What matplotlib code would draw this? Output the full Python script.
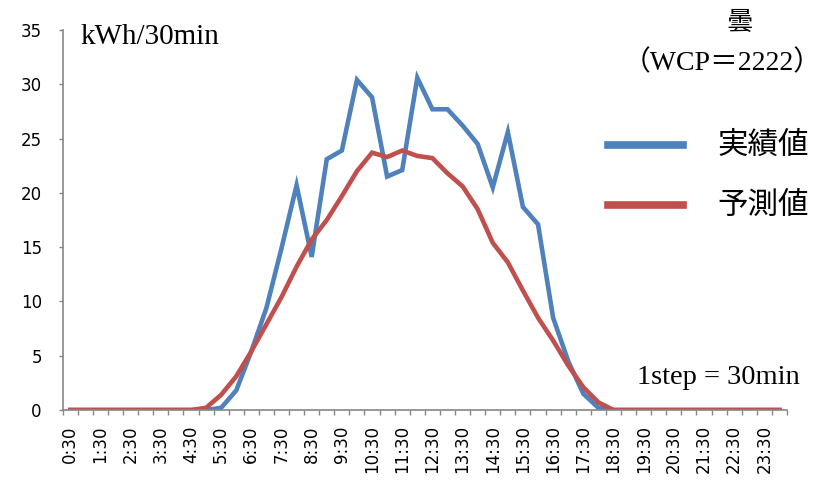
import numpy as np
import matplotlib
matplotlib.use("Agg")
import matplotlib.pyplot as plt

plt.rcParams['font.family'] = ['DejaVu Sans']

# half-hour steps 0:30 .. 24:00 (48 points), labelled every other step
tick_labels = ["0:30", "1:30", "2:30", "3:30", "4:30", "5:30", "6:30", "7:30",
               "8:30", "9:30", "10:30", "11:30", "12:30", "13:30", "14:30", "15:30",
               "16:30", "17:30", "18:30", "19:30", "20:30", "21:30", "22:30", "23:30"]

actual = [0, 0, 0, 0, 0, 0, 0, 0, 0, 0,
          0.2, 1.8, 5.4, 9.4, 14.9, 20.7, 14.1, 23.1, 23.9, 30.4,
          28.8, 21.5, 22.1, 30.6, 27.7, 27.7, 26.2, 24.5, 20.5, 25.6,
          18.7, 17.1, 8.5, 4.5, 1.5, 0.2, 0, 0, 0, 0,
          0, 0, 0, 0, 0, 0, 0, 0]
forecast = [0, 0, 0, 0, 0, 0, 0, 0, 0, 0.2,
            1.4, 3.1, 5.4, 7.9, 10.4, 13.2, 15.7, 17.5, 19.7, 22.0,
            23.7, 23.3, 23.9, 23.4, 23.2, 21.8, 20.6, 18.5, 15.4, 13.6,
            11.0, 8.5, 6.4, 4.1, 2.1, 0.7, 0, 0, 0, 0,
            0, 0, 0, 0, 0, 0, 0, 0]

W, H = 827, 484
fig = plt.figure(figsize=(W / 100, H / 100), dpi=100)
ax = fig.add_axes([62.7 / W, 1 - 410 / H, (787 - 62.7) / W, (410 - 30) / H])

x = np.arange(len(actual))
ax.plot(x, actual, color='#4F81BD', lw=3.3, solid_joinstyle='miter')
ax.plot(x, forecast, color='#C0504D', lw=3.3, solid_joinstyle='miter')

ax.set_xlim(-0.5, len(actual) - 0.5)
ax.set_ylim(0, 35)
ax.set_yticks(range(0, 36, 5))

# tick marks between categories, labels on every other category
ax.set_xticks(np.arange(-0.5, len(actual), 1))
ax.set_xticklabels([])
ax.set_xticks(np.arange(0, len(actual), 2), minor=True)
ax.set_xticklabels(tick_labels, minor=True, rotation=90, fontsize=12)
ax.tick_params(axis='x', which='major', length=3.5, color='#868686', width=1)
ax.tick_params(axis='x', which='minor', length=0, pad=11)
ax.tick_params(axis='y', length=3, color='#868686', width=1, labelsize=12, pad=12)

for s in ['top', 'right']:
    ax.spines[s].set_visible(False)
for s in ['left', 'bottom']:
    ax.spines[s].set_color('#868686')
    ax.spines[s].set_linewidth(1.2)


def fx(px):
    return px / W


def fy(py):
    return 1 - py / H


serif = ['Liberation Serif', 'Noto Sans CJK JP']
cjk = ['Noto Sans CJK JP', 'DejaVu Sans']

fig.text(fx(80), fy(37), "kWh/30min", family=serif, fontsize=21, va='center', ha='left')
fig.text(fx(740), fy(22), "曇", family=cjk, fontsize=19, va='center', ha='center')
fig.text(fx(722), fy(63), "（WCP＝2222）", family=serif, fontsize=20, va='center', ha='center')
fig.text(fx(637), fy(378), "1step = 30min", family=serif, fontsize=20.5, va='center', ha='left')

# legend drawn by hand on the right side
for yy, col, lab in [(145, '#4F81BD', "実績値"), (205, '#C0504D', "予測値")]:
    fig.add_artist(plt.Line2D([fx(608), fx(683)], [fy(yy), fy(yy)], color=col, lw=5.5,
                              transform=fig.transFigure))
    fig.text(fx(717), fy(yy), lab, family=cjk, fontsize=22, va='center', ha='left')

fig.savefig("out.png", dpi=100)
